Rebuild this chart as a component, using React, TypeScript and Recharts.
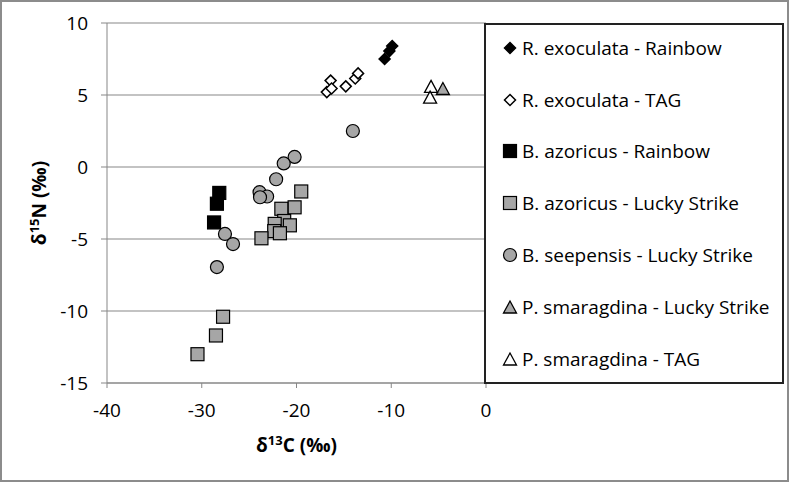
import React from "react"
import { ScatterChart, Scatter, XAxis, YAxis, CartesianGrid, Legend, Label } from "recharts"

// δ13C / δ15N values
const rexoRainbowC = [-9.9, -10.2, -10.7]
const rexoRainbowN = [8.4, 8.05, 7.5]
const rexoTagC = [-16.4, -16.8, -16.3, -14.8, -13.8, -13.5]
const rexoTagN = [6.0, 5.2, 5.45, 5.6, 6.15, 6.5]
const bazoRainbowC = [-28.15, -28.4, -28.7]
const bazoRainbowN = [-1.8, -2.55, -3.85]
const bazoLuckyC = [-19.5, -20.2, -21.6, -21.3, -20.7, -22.3, -22.35, -21.75, -23.7, -27.75, -28.5, -30.45]
const bazoLuckyN = [-1.7, -2.8, -2.9, -3.75, -4.05, -3.95, -4.45, -4.6, -4.95, -10.4, -11.7, -13.0]
const bseepLuckyC = [-20.2, -21.35, -22.15, -23.9, -23.1, -23.85, -27.55, -26.7, -28.4, -14.05]
const bseepLuckyN = [0.7, 0.25, -0.85, -1.75, -2.05, -2.1, -4.65, -5.35, -6.95, 2.5]
const psmaLuckyC = [-4.55]
const psmaLuckyN = [5.45]
const psmaTagC = [-5.8, -5.9]
const psmaTagN = [5.6, 4.85]

const xTicks = [-40, -30, -20, -10, 0]
const yTicks = [-15, -10, -5, 0, 5, 10]

const GREY = "#a6a6a6"
const AXIS = "#878787"
const FONT = "'Open Sans', sans-serif"

const toPoints = (xs: number[], ys: number[]) => xs.map((x, i) => ({ x, y: ys[i] }))

type Kind = "diamond" | "square" | "circle" | "triangle"

const drawMarker = (kind: Kind, cx: number, cy: number, fill: string, s: number) => {
  const stroke = "#000"
  if (kind === "diamond") {
    const r = s / 2
    return <path d={`M${cx},${cy - r}L${cx + r},${cy}L${cx},${cy + r}L${cx - r},${cy}Z`} fill={fill} stroke={stroke} strokeWidth={1.5} />
  }
  if (kind === "square") {
    return <rect x={cx - s / 2} y={cy - s / 2} width={s} height={s} fill={fill} stroke={stroke} strokeWidth={1.2} />
  }
  if (kind === "circle") {
    return <circle cx={cx} cy={cy} r={s / 2} fill={fill} stroke={stroke} strokeWidth={1.2} />
  }
  const h = s * 0.92
  return <path d={`M${cx},${cy - h / 2}L${cx + s / 2},${cy + h / 2}L${cx - s / 2},${cy + h / 2}Z`} fill={fill} stroke={stroke} strokeWidth={1.3} />
}

const series = [
  { name: "R. exoculata - Rainbow", data: toPoints(rexoRainbowC, rexoRainbowN), kind: "diamond" as Kind, fill: "#000", size: 11 },
  { name: "R. exoculata - TAG", data: toPoints(rexoTagC, rexoTagN), kind: "diamond" as Kind, fill: "#fff", size: 11 },
  { name: "B. azoricus - Rainbow", data: toPoints(bazoRainbowC, bazoRainbowN), kind: "square" as Kind, fill: "#000", size: 13 },
  { name: "B. azoricus - Lucky Strike", data: toPoints(bazoLuckyC, bazoLuckyN), kind: "square" as Kind, fill: GREY, size: 13 },
  { name: "B. seepensis - Lucky Strike", data: toPoints(bseepLuckyC, bseepLuckyN), kind: "circle" as Kind, fill: GREY, size: 13 },
  { name: "P. smaragdina - Lucky Strike", data: toPoints(psmaLuckyC, psmaLuckyN), kind: "triangle" as Kind, fill: GREY, size: 13 },
  { name: "P. smaragdina - TAG", data: toPoints(psmaTagC, psmaTagN), kind: "triangle" as Kind, fill: "#fff", size: 13 },
]

const renderLegend = () => (
  <div
    style={{
      boxSizing: "border-box",
      width: 300,
      height: 361,
      border: "2px solid #222",
      background: "#fff",
      fontFamily: FONT,
      fontSize: 19,
      color: "#000",
    }}
  >
    <div style={{ marginTop: -3 }}>
      {series.map((s) => (
        <div key={s.name} style={{ height: 51.8, display: "flex", alignItems: "center", whiteSpace: "nowrap" }}>
          <svg width={16} height={16} style={{ marginLeft: 16, marginRight: 4, flexShrink: 0 }}>
            {drawMarker(s.kind, 8, 8, s.fill, s.kind === "diamond" ? 11 : 13)}
          </svg>
          <span>{s.name}</span>
        </div>
      ))}
    </div>
  </div>
)

const XTitle = (props: any) => {
  const { x, y, width } = props.viewBox
  return (
    <text x={x + width / 2} y={y + 69} textAnchor="middle" fontFamily={FONT} fontSize={19} fontWeight="bold" fill="#000">
      <tspan>δ</tspan>
      <tspan dy={-7} fontSize={13}>13</tspan>
      <tspan dy={7}>C (‰)</tspan>
    </text>
  )
}

const YTitle = (props: any) => {
  const { y, height } = props.viewBox
  const cx = 46
  const cy = y + height / 2
  return (
    <text x={cx} y={cy} transform={`rotate(-90, ${cx}, ${cy})`} textAnchor="middle" fontFamily={FONT} fontSize={19} fontWeight="bold" fill="#000">
      <tspan>δ</tspan>
      <tspan dy={-7} fontSize={13}>15</tspan>
      <tspan dy={7}>N (‰)</tspan>
    </text>
  )
}

export default function App() {
  return (
    <div style={{ position: "absolute", left: 0, top: 0, width: 789, height: 482, background: "#fff" }}>
      <ScatterChart width={789} height={482} margin={{ top: 23, right: 303, bottom: 0, left: 0 }}>
        <CartesianGrid vertical={false} stroke={AXIS} strokeWidth={1.2} />
        <XAxis
          type="number"
          dataKey="x"
          domain={[-40, 0]}
          ticks={xTicks}
          height={99}
          tickSize={5}
          tickMargin={16}
          stroke={AXIS}
          tick={{ fill: "#000", fontSize: 19, fontFamily: FONT }}
        >
          <Label content={XTitle} />
        </XAxis>
        <YAxis
          type="number"
          dataKey="y"
          domain={[-15, 10]}
          ticks={yTicks}
          width={107}
          tickSize={6}
          tickMargin={13}
          stroke={AXIS}
          tick={{ fill: "#000", fontSize: 19, fontFamily: FONT }}
        >
          <Label content={YTitle} />
        </YAxis>
        {series.map((s) => (
          <Scatter
            key={s.name}
            name={s.name}
            data={s.data}
            isAnimationActive={false}
            shape={(p: any) => drawMarker(s.kind, p.cx, p.cy, s.fill, s.size)}
          />
        ))}
        <Legend
          layout="horizontal"
          verticalAlign="middle"
          align="center"
          content={renderLegend}
          wrapperStyle={{ position: "absolute", left: 484, top: 23, width: 300, height: 361 }}
        />
      </ScatterChart>
      <div
        style={{
          position: "absolute",
          left: 0,
          top: 0,
          width: 789,
          height: 482,
          boxSizing: "border-box",
          border: "2px solid #8c8c8c",
          pointerEvents: "none",
        }}
      />
    </div>
  )
}
